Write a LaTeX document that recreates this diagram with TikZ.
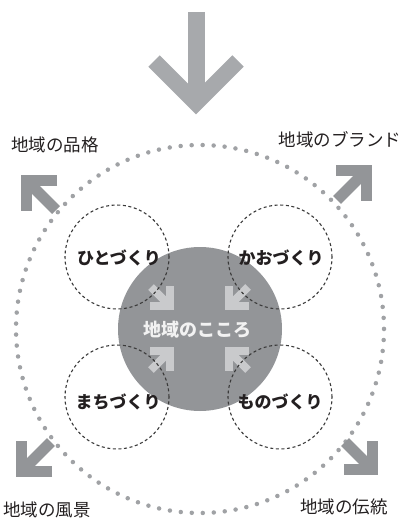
\documentclass[tikz,border=0pt]{standalone}
\usepackage{fontspec}
\newfontfamily\jp{Noto Sans CJK JP}
\definecolor{bigarrow}{HTML}{A7A9AC}
\definecolor{outarrow}{HTML}{939598}
\definecolor{inarrow}{HTML}{C9CACC}
\definecolor{core}{HTML}{939598}
\definecolor{dots}{HTML}{A0A2A5}
\definecolor{dashc}{HTML}{3A3A3A}
\definecolor{ink}{HTML}{231F20}
% #1 cx, #2 cy (outer tip corner), #3 sx, #4 sy, #5 length, #6 width, #7 colour
\newcommand\myarrow[7]{%
  \draw[#7, line width=#6pt, line join=miter]
    ({#1-(#3)*#5},{#2-(#4)*#6/2}) -- ({#1-(#3)*#6/2},{#2-(#4)*#6/2}) -- ({#1-(#3)*#6/2},{#2-(#4)*#5});
  \draw[#7, line width=#6pt]
    ({#1-(#3)*#6/2},{#2-(#4)*#6/2}) -- ({#1-(#3)*(#5-1)},{#2-(#4)*(#5-1)});
}
\begin{document}
\begin{tikzpicture}[x=1pt,y=-1pt,
  outlabel/.style={font=\jp\fontsize{17.5}{20}\selectfont, text=ink, inner sep=0pt},
  circlabel/.style={font=\jp\bfseries\fontsize{17}{20}\selectfont, text=ink, inner sep=0pt},
  ring/.style={draw=dashc, line width=1.1pt, dash pattern=on 3pt off 2.6pt, circle, minimum size=104pt, inner sep=0pt},
]
\useasboundingbox (0,0) rectangle (406,519);

% big top arrow
\coordinate (topA) at (196,12);
\coordinate (topB) at (196,100);
\draw[bigarrow, line width=17pt] (topA) -- (topB);
\coordinate (chL) at (154,61);
\coordinate (chT) at (196,103);
\coordinate (chR) at (238,61);
\draw[bigarrow, line width=16pt, line join=miter] (chL) -- (chT) -- (chR);

% dotted outer circle
\draw[dots, line width=4.5pt, line cap=round, dash pattern=on 0pt off 11.0105pt] (200,329) circle[radius=184];

% outer arrows
\myarrow{21}{175}{-1}{-1}{36}{11}{outarrow}
\myarrow{372}{165}{1}{-1}{36}{11}{outarrow}
\myarrow{16}{477}{-1}{1}{36}{11}{outarrow}
\myarrow{378}{475}{1}{1}{34}{11}{outarrow}

% core circle
\node[circle, fill=core, minimum size=164pt, inner sep=0pt] (core) at (200,329) {};

% inner arrows
\myarrow{174}{310}{1}{1}{24}{8}{inarrow}
\myarrow{225}{310}{-1}{1}{24}{8}{inarrow}
\myarrow{174}{347}{1}{-1}{24}{8}{inarrow}
\myarrow{225}{347}{-1}{-1}{24}{8}{inarrow}

% dashed rings
\node[ring] (r1) at (117,257) {};
\node[ring] (r2) at (280,257) {};
\node[ring] (r3) at (117,397) {};
\node[ring] (r4) at (280,397) {};

% labels
\node[circlabel] (t1) at (119,258) {ひとづくり};
\node[circlabel] (t2) at (281,258) {かおづくり};
\node[circlabel] (t3) at (118,402) {まちづくり};
\node[circlabel] (t4) at (280,402) {ものづくり};
\node[font=\jp\bfseries\fontsize{18}{20}\selectfont, text=white!95!black, inner sep=0pt] (ctext) at (197,330) {地域のこころ};

\node[outlabel] (o1) at (55,145) {地域の品格};
\node[outlabel] (o2) at (340,140) {地域のブランド};
\node[outlabel] (o3) at (47,510) {地域の風景};
\node[outlabel] (o4) at (344,507) {地域の伝統};
\end{tikzpicture}
\end{document}
